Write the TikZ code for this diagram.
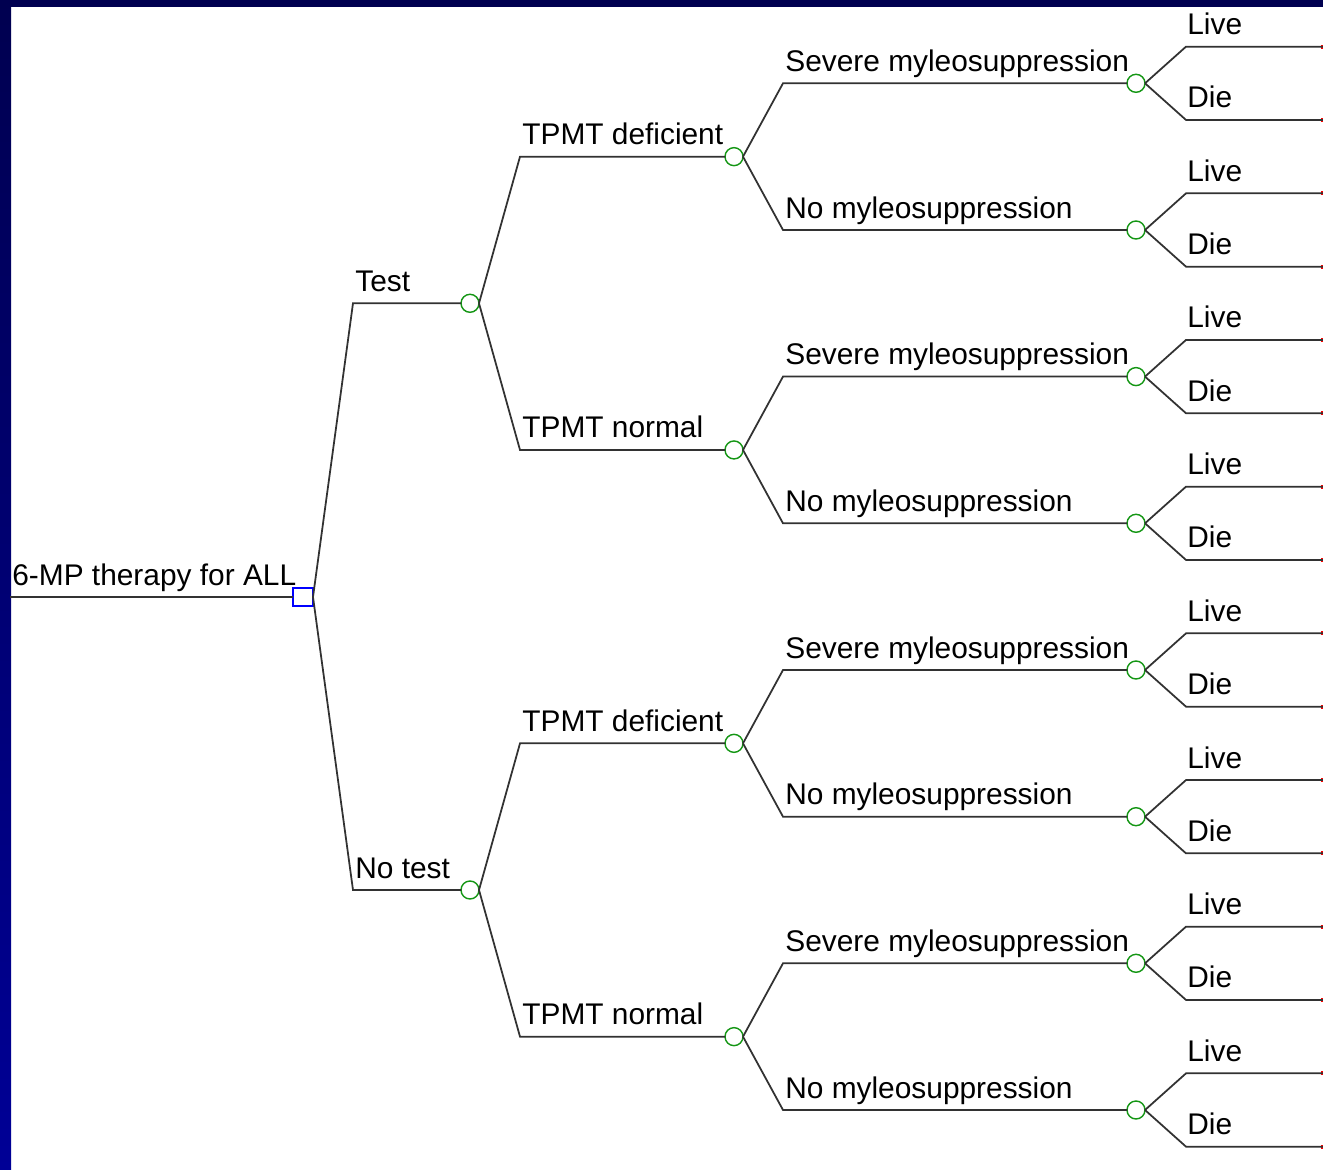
\documentclass[tikz,border=0pt]{standalone}
\usepackage{fontspec}
\setmainfont{Liberation Sans}
\usetikzlibrary{calc}

\definecolor{frametop}{RGB}{0,0,80}
\definecolor{framebot}{RGB}{0,0,150}
\definecolor{chancegreen}{RGB}{20,150,20}
\definecolor{branchgrey}{RGB}{50,50,50}

\tikzset{
	branch/.style={draw=branchgrey, line width=1pt},
	chance/.style={draw=chancegreen, fill=white, circle, line width=0.8pt, minimum size=0.36cm, inner sep=0pt, outer sep=0pt},
	decision/.style={draw=blue, fill=white, rectangle, line width=0.8pt, minimum width=0.4cm, minimum height=0.36cm, inner sep=0pt, outer sep=0pt},
	terminal/.style={fill=red, inner sep=0pt, minimum size=0.08cm},
	lbl/.style={anchor=base west, inner sep=0pt, font=\fontsize{17}{20}\selectfont}
}

\begin{document}
\begin{tikzpicture}[x=0.02cm, y=-0.02cm]
			\useasboundingbox (0,0) rectangle (1323,1170);
			\fill[white] (0,0) rectangle (1323,1170);
			\shade[top color=frametop, bottom color=framebot] (0,0) rectangle (11,1170);
			\fill[frametop] (0,0) rectangle (1323,7);

			% root decision
			\coordinate (start) at (10,597);
			\node[decision] (dec) at (303,597) {};
			\draw[branch] (start) -- (dec.west);
			\node[lbl] (tdec) at (12,585) {6-MP therapy for ALL};

			\foreach \i/\ta in {1/Test, 2/No test} {
				\pgfmathsetmacro\ya{303.3+586.7*(\i-1)}
				\coordinate (b\i) at (353,\ya);
				\node[chance] (c\i) at (470,\ya) {};
				\draw[branch] (dec.east) -- (b\i) -- (c\i.west);
				\node[lbl] (t\i) at (355,\ya-12) {\ta};

				\foreach \j/\tb in {1/TPMT deficient, 2/TPMT normal} {
					\pgfmathsetmacro\yb{\ya+293.3*(\j-1.5)}
					\coordinate (b\i\j) at (520,\yb);
					\node[chance] (c\i\j) at (734,\yb) {};
					\draw[branch] (c\i.east) -- (b\i\j) -- (c\i\j.west);
					\node[lbl] (t\i\j) at (522,\yb-12) {\tb};

					\foreach \k/\tc in {1/Severe myleosuppression, 2/No myleosuppression} {
						\pgfmathsetmacro\yc{\yb+146.7*(\k-1.5)}
						\coordinate (b\i\j\k) at (783,\yc);
						\node[chance] (c\i\j\k) at (1136,\yc) {};
						\draw[branch] (c\i\j.east) -- (b\i\j\k) -- (c\i\j\k.west);
						\node[lbl] (t\i\j\k) at (785,\yc-12) {\tc};

						\foreach \m/\td in {1/Live, 2/Die} {
							\pgfmathsetmacro\yd{\yc+73.3*(\m-1.5)}
							\coordinate (b\i\j\k\m) at (1186,\yd);
							\node[terminal] (e\i\j\k\m) at (1323,\yd) {};
							\draw[branch] (c\i\j\k.east) -- (b\i\j\k\m) -- (e\i\j\k\m.center);
							\node[lbl] (t\i\j\k\m) at (1187,\yd-12) {\td};
						}
					}
				}
			}
		\end{tikzpicture}
\end{document}
